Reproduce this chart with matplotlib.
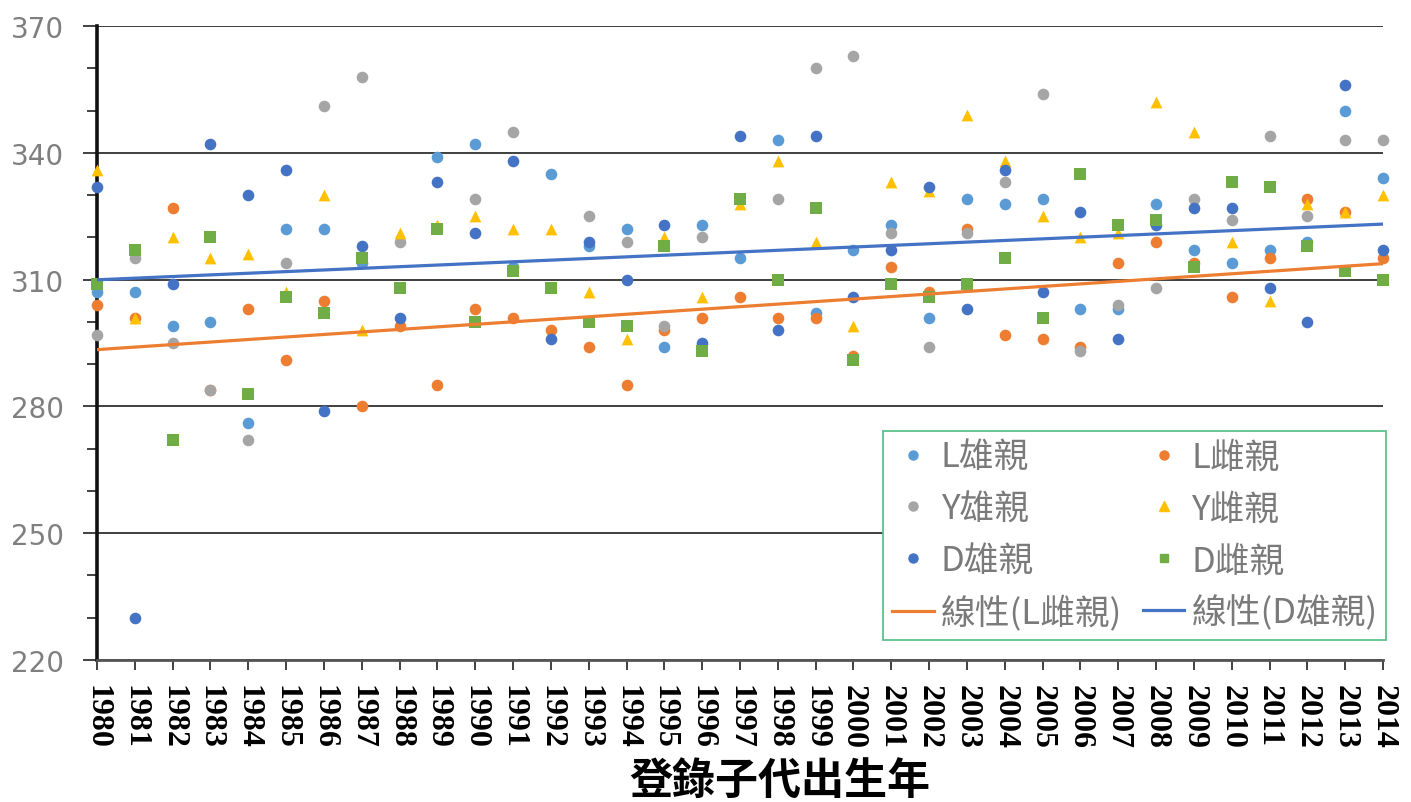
import numpy as np
import matplotlib
matplotlib.use("Agg")
import matplotlib.pyplot as plt
from matplotlib.lines import Line2D

plt.rcParams['font.family'] = ['Noto Sans CJK TC', 'DejaVu Sans']

# ── Data ────────────────────────────────────────────────────────────────
years = list(range(1980, 2015))
nan = np.nan

l_male = [307, 307, 299, 300, 276, 322, 322, 314, nan, 339, 342, 313, 335, 318, 322, 294, 323, 315,
          343, 302, 317, 323, 301, 329, 328, 329, 303, 303, 328, 317, 314, 317, 319, 350, 334]
l_female = [304, 301, 327, 284, 303, 291, 305, 280, 299, 285, 303, 301, 298, 294, 285, 298, 301, 306,
            301, 301, 292, 313, 307, 322, 297, 296, 294, 314, 319, 314, 306, 315, 329, 326, 315]
y_male = [297, 315, 295, 284, 272, 314, 351, 358, 319, nan, 329, 345, nan, 325, 319, 299, 320, nan,
          329, 360, 363, 321, 294, 321, 333, 354, 293, 304, 308, 329, 324, 344, 325, 343, 343]
y_female = [336, 301, 320, 315, 316, 307, 330, 298, 321, 323, 325, 322, 322, 307, 296, 320, 306, 328,
            338, 319, 299, 333, 331, 349, 338, 325, 320, 321, 352, 345, 319, 305, 328, 326, 330]
d_male = [332, 230, 309, 342, 330, 336, 279, 318, 301, 333, 321, 338, 296, 319, 310, 323, 295, 344,
          298, 344, 306, 317, 332, 303, 336, 307, 326, 296, 323, 327, 327, 308, 300, 356, 317]
d_female = [309, 317, 272, 320, 283, 306, 302, 315, 308, 322, 300, 312, 308, 300, 299, 318, 293, 329,
            310, 327, 291, 309, 306, 309, 315, 301, 335, 323, 324, 313, 333, 332, 318, 312, 310]

y_ticks = [220, 250, 280, 310, 340, 370]

labels = ["L雄親", "L雌親", "Y雄親", "Y雌親", "D雄親", "D雌親"]
series = [l_male, l_female, y_male, y_female, d_male, d_female]
colors = ["#5B9BD5", "#ED7D31", "#A5A5A5", "#FFC000", "#4472C4", "#70AD47"]
markers = ["o", "o", "o", "^", "o", "s"]

# ── Figure ──────────────────────────────────────────────────────────────
fig = plt.figure(figsize=(14.11, 8.03), dpi=100)
ax = fig.add_axes([0.0687, 0.1768, 0.9115, 0.7896])

x = np.array(years, dtype=float)
sizes = {"o": 70, "^": 72, "s": 66}
for vals, lab, c, m in zip(series, labels, colors, markers):
    ax.scatter(x, vals, s=sizes[m], color=c, marker=m, linewidths=0,
               zorder=3, clip_on=False, label=lab)

# linear trend lines
for vals, c in [(l_female, "#ED7D31"), (d_male, "#4472C4")]:
    v = np.array(vals, dtype=float)
    ok = ~np.isnan(v)
    k, b = np.polyfit(x[ok], v[ok], 1)
    ax.plot([x[0], x[-1]], [k * x[0] + b, k * x[-1] + b], color=c, lw=2.3,
            zorder=4, solid_capstyle="butt")

ax.set_xlim(1980, 2014)
ax.set_ylim(220, 370)
ax.set_yticks(y_ticks)
ax.set_yticks(np.arange(220, 371, 10), minor=True)
ax.set_xticks(years)
ax.set_xticklabels([str(y) for y in years], rotation=-90, family="Liberation Serif",
                   fontweight="bold", fontsize=23)

ax.grid(axis="y", which="major", color="#303030", lw=1.3, zorder=1)
for s in ["top", "right"]:
    ax.spines[s].set_visible(False)
ax.spines["left"].set_linewidth(2.6)
ax.spines["left"].set_color("#111111")
ax.spines["bottom"].set_linewidth(2.0)
ax.spines["bottom"].set_color("#555555")

ax.tick_params(axis="y", which="major", length=10, width=1.3, color="#333333",
               labelsize=20, labelcolor="#7f7f7f", pad=14)
ax.tick_params(axis="y", which="minor", length=7, width=1.3, color="#333333")
ax.tick_params(axis="x", length=7, width=1.3, color="#333333", pad=10)
for t in ax.get_yticklabels():
    t.set_family("DejaVu Sans")

fig.text(780 / 1411, 1 - 782 / 803, "登錄子代出生年", fontsize=31, fontweight="bold",
         ha="center", va="center")

# legend: column-major order to match layout
h = {lab: Line2D([], [], ls="none", marker=m, color=c, markersize=6.5 if m != "s" else 6)
     for lab, c, m in zip(labels, colors, markers)}
h_lf = Line2D([], [], color="#ED7D31", lw=2.3)
h_dm = Line2D([], [], color="#4472C4", lw=2.3)
handles = [h["L雄親"], h["Y雄親"], h["D雄親"], h_lf, h["L雌親"], h["Y雌親"], h["D雌親"], h_dm]
names = ["L雄親", "Y雄親", "D雄親", "線性(L雌親)", "L雌親", "Y雌親", "D雌親", "線性(D雄親)"]
leg = ax.legend(handles, names, ncol=2, loc="lower right", bbox_to_anchor=(1.0025, 0.032),
                fontsize=25, frameon=True, fancybox=False, framealpha=1,
                edgecolor="#5DC08A", labelspacing=0.48, handlelength=1.2,
                handletextpad=0.2, columnspacing=0.6, borderpad=0.25, borderaxespad=0)
leg.get_frame().set_linewidth(1.3)
for t in leg.get_texts():
    t.set_color("#7a7a7a")

fig.savefig("out.png", dpi=100)
